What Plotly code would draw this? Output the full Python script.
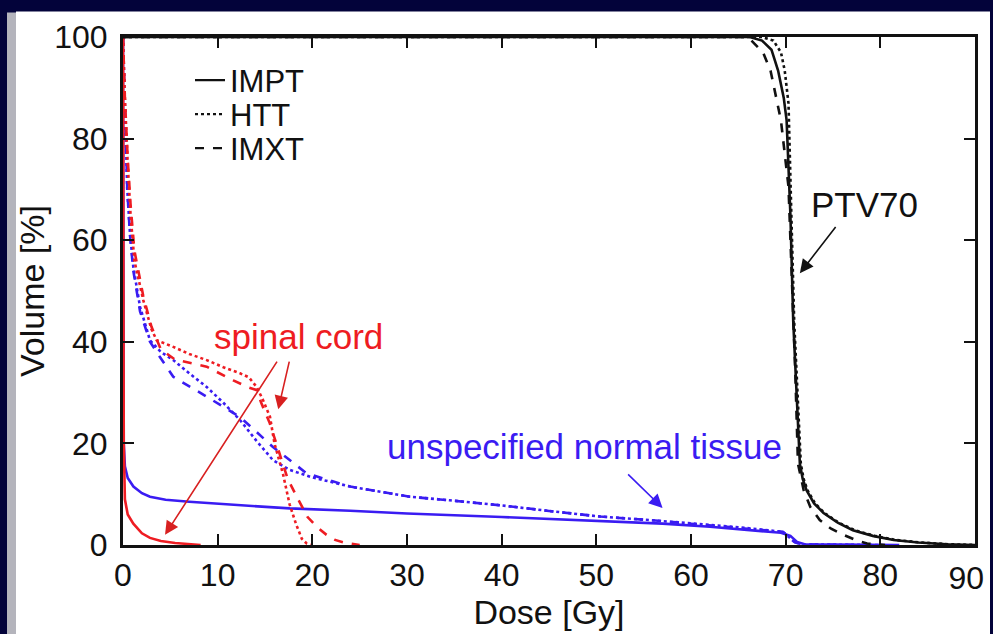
import plotly.graph_objects as go

# ---------------- data ----------------
# PTV70 (black)
ptv_impt_x = [0, 60, 66.2, 67.5, 68.5, 69.2, 69.8, 70.1, 70.5, 70.8, 71.1, 71.5, 71.8, 72.2, 73.0, 74.0, 75.5, 77.1, 79.2, 81.4, 84.0, 87.0, 90.0]
ptv_impt_y = [100, 100, 100, 99.3, 97.5, 93.4, 88, 83.6, 65, 44, 32, 16, 13, 10.8, 8.2, 6.3, 4.4, 2.9, 1.8, 1.0, 0.5, 0.15, 0]
ptv_htt_x = [0, 60, 67.5, 68.7, 69.5, 69.9, 70.3, 70.6, 70.9, 71.2, 71.6, 71.9, 72.3, 73.1, 74.1, 75.6, 77.3, 79.4, 81.6, 84.2, 87.2, 90.0]
ptv_htt_y = [100, 100, 100, 99.3, 97, 93.4, 86.9, 65, 44, 32, 16, 13, 10.8, 8.2, 6.3, 4.4, 2.9, 1.8, 1.0, 0.5, 0.15, 0]
ptv_imxt_x = [0, 60, 66.0, 67.6, 68.4, 69.5, 69.9, 70.3, 70.7, 71.0, 71.3, 71.9, 72.6, 73.6, 74.8, 76.1, 77.5, 78.6, 80.5]
ptv_imxt_y = [100, 100, 100, 97, 93.4, 83.6, 77, 70.5, 50, 35, 16, 10.8, 7.5, 4.9, 3.2, 2.0, 0.9, 0.3, 0]

# unspecified normal tissue (blue)
unt_impt_x = [0, 0.03, 0.08, 0.2, 0.5, 1.1, 2.0, 2.85, 4.5, 7.0, 10.0, 17.6, 24.0, 30.0, 40.0, 50.0, 57.0, 62.0, 66.0, 69.5, 70.5, 71.2, 72.0, 76.0, 82.0]
unt_impt_y = [100, 40, 20, 15.5, 13.2, 11.5, 10.2, 9.5, 8.9, 8.5, 8.1, 7.2, 6.75, 6.2, 5.5, 4.7, 4.2, 3.6, 3.0, 2.4, 1.8, 0.6, 0.15, 0.05, 0]
unt_htt_x = [0, 0.2, 0.45, 0.74, 1.09, 1.8, 2.85, 4.0, 5.31, 7.0, 8.84, 10.6, 12.36, 14.1, 15.84, 17.6, 20.0, 24.0, 30.3, 34.5, 40.0, 45.0, 50.4, 55.7, 60.0, 65.0, 69.7, 71.0, 72.0, 80.0]
unt_htt_y = [100, 85, 70, 61.3, 54.7, 46.9, 40.3, 38.0, 36.4, 33.8, 31.1, 28.0, 24.6, 20.5, 16.7, 14.8, 13.3, 11.5, 9.5, 8.8, 7.8, 6.7, 5.6, 4.9, 4.3, 3.5, 2.6, 0.5, 0.1, 0]
unt_imxt_x = [0, 0.2, 0.45, 0.74, 1.09, 1.8, 2.85, 3.9, 5.31, 8.84, 12.36, 15.84, 19.4, 24.0, 30.3, 34.5, 40.0, 45.0, 50.4, 55.7, 60.0, 65.0, 69.7, 71.0, 72.0, 78.0]
unt_imxt_y = [100, 85, 70, 61.0, 54.0, 46.0, 40.0, 37.0, 33.1, 29.2, 25.2, 19.3, 14.1, 11.5, 9.5, 8.8, 7.8, 6.7, 5.6, 4.9, 4.2, 3.5, 2.6, 0.5, 0.1, 0]

# spinal cord (red)
sc_impt_x = [0, 0.03, 0.08, 0.2, 0.5, 1.09, 2.0, 2.85, 4.0, 5.5, 7.1, 8.2]
sc_impt_y = [100, 50, 20, 9, 6, 4.2, 2.3, 1.4, 0.8, 0.4, 0.15, 0]
sc_htt_x = [0, 0.2, 0.5, 0.8, 1.2, 2.14, 3.0, 3.56, 5.31, 7.0, 8.84, 10.6, 12.36, 13.3, 14.12, 14.8, 15.53, 16.0, 16.9, 17.6, 18.3, 18.9, 19.4, 19.8]
sc_htt_y = [100, 88, 75, 65, 56, 48.2, 42.5, 40.3, 39.0, 37.6, 36.4, 35.0, 33.8, 33.0, 31.1, 28.5, 25.2, 20.0, 14.0, 8.0, 4.0, 1.2, 0.3, 0]
sc_imxt_x = [0, 0.2, 0.5, 0.8, 1.2, 2.14, 3.0, 4.0, 5.5, 8.84, 11.65, 13.3, 14.12, 14.6, 15.5, 16.4, 17.4, 18.5, 19.5, 20.46, 21.5, 22.4, 23.5, 25.0]
sc_imxt_y = [100, 88, 76, 67, 58, 49, 43, 38.5, 36.5, 35.1, 32.4, 31.0, 30.5, 28.0, 24.0, 19.0, 13.0, 9.0, 5.5, 3.6, 2.0, 1.0, 0.4, 0]

legend_names = ["IMPT", "HTT", "IMXT"]
x_ticks = [0, 10, 20, 30, 40, 50, 60, 70, 80, 90]
x_tick_labels = ["0", "10", "20", "30", "40", "50", "60", "70", "80", ""]
x_last_tick = [90]
x_last_label = ["90"]
y_ticks = [0, 20, 40, 60, 80, 100]
y_tick_labels = ["0", "20", "40", "60", "80", "100"]

# ---------------- styles ----------------
BLACK = "#111111"
BLUE = "#3a1cf2"
RED = "#ee1c22"
NAVY = "#03033a"
FONT = "Liberation Sans, Arial, Helvetica, sans-serif"
dashes = {"IMPT": "solid", "HTT": "dot", "IMXT": "dash"}
LW = 2.6

fig = go.Figure()

def add(x, y, color, name):
    fig.add_trace(go.Scatter(x=x, y=y, mode="lines", showlegend=False,
                             line=dict(color=color, width=LW, dash=dashes[name]),
                             hoverinfo="skip"))

add(unt_imxt_x, unt_imxt_y, BLUE, "IMXT")
add(unt_htt_x, unt_htt_y, BLUE, "HTT")
add(unt_impt_x, unt_impt_y, BLUE, "IMPT")
add(sc_imxt_x, sc_imxt_y, RED, "IMXT")
add(sc_htt_x, sc_htt_y, RED, "HTT")
add(sc_impt_x, sc_impt_y, RED, "IMPT")
add(ptv_imxt_x, ptv_imxt_y, BLACK, "IMXT")
add(ptv_htt_x, ptv_htt_y, BLACK, "HTT")
add(ptv_impt_x, ptv_impt_y, BLACK, "IMPT")

# empty trace that carries the overlaid axis holding the last (edge) tick label
fig.add_trace(go.Scatter(x=[None], y=[None], xaxis="x2", yaxis="y", mode="lines",
                         showlegend=False, hoverinfo="skip"))

# ---------------- background panel helpers ----------------
def px2x(px):
    return (px - 123) / 852.0

def py2y(py):
    return (545 - py) / 508.5

# one legend per entry, so rows can sit as tightly as in the reference
legend_keys = ["legend", "legend2", "legend3"]
legend_rows = [80, 114, 148]
legend_layout = {}
for n, key, row in zip(legend_names, legend_keys, legend_rows):
    fig.add_trace(go.Scatter(x=[None], y=[None], mode="lines", name=n, legend=key,
                             line=dict(color=BLACK, width=2.2, dash=dashes[n])))
    legend_layout[key] = dict(x=px2x(190), y=py2y(row), xanchor="left", yanchor="middle",
                              bgcolor="rgba(0,0,0,0)",
                              font=dict(family=FONT, size=31, color=BLACK),
                              itemwidth=30)

shapes = [
    dict(type="rect", xref="paper", yref="paper", x0=px2x(-5), x1=px2x(1000),
         y0=py2y(700), y1=py2y(-5), fillcolor=NAVY, line=dict(width=0), layer="below"),
    dict(type="rect", xref="paper", yref="paper", x0=px2x(7), x1=px2x(17),
         y0=py2y(700), y1=py2y(12), fillcolor="#b4b4bc", line=dict(width=0), layer="below"),
    dict(type="rect", xref="paper", yref="paper", x0=px2x(16), x1=px2x(990),
         y0=py2y(700), y1=py2y(11), fillcolor="#ffffff", line=dict(width=0), layer="below"),
]

# ---------------- annotations ----------------
ann = []
def label(text, x, y, color):
    ann.append(dict(text=text, x=x, y=y, xref="x", yref="y", showarrow=False,
                    font=dict(family=FONT, size=35, color=color),
                    xanchor="center", yanchor="middle"))

def arrow(x, y, ax, ay, color):
    ann.append(dict(text="", x=x, y=y, ax=ax, ay=ay, xref="x", yref="y",
                    axref="x", ayref="y", showarrow=True, arrowhead=2,
                    arrowsize=1.7, arrowwidth=1.6, arrowcolor=color,
                    standoff=0, startstandoff=0))

label("spinal cord", 18.5, 41.0, RED)
label("unspecified normal tissue", 48.8, 19.3, BLUE)
label("PTV70", 78.3, 67.1, BLACK)
arrow(4.44, 2.0, 16.37, 36.4, "#d82020")
arrow(16.4, 26.7, 17.6, 36.4, "#d82020")
arrow(57.0, 7.3, 53.2, 14.2, BLUE)
arrow(71.5, 53.5, 75.4, 62.9, BLACK)

tickfont = dict(family=FONT, size=32, color=BLACK)
axis_common = dict(showline=True, linecolor=BLACK, linewidth=3, mirror="ticks",
                   ticks="inside", ticklen=11, tickwidth=1.5, tickcolor=BLACK,
                   showgrid=False, zeroline=False, automargin=False,
                   tickfont=tickfont)

fig.update_layout(
    width=993, height=634,
    margin=dict(l=123, r=18, t=37, b=89, autoexpand=False),
    paper_bgcolor=NAVY,
    plot_bgcolor="#ffffff",
    shapes=shapes,
    annotations=ann,
    xaxis=dict(range=[0, 90], tickvals=x_ticks, ticktext=x_tick_labels,
               title=dict(text="Dose [Gy]", font=dict(family=FONT, size=34, color=BLACK), standoff=8),
               **axis_common),
    xaxis2=dict(range=[0, 90], overlaying="x", anchor="y", side="bottom",
                tickvals=x_last_tick, ticktext=x_last_label, tickfont=tickfont,
                ticks="", showline=False, showgrid=False, zeroline=False,
                automargin=False, ticklabelposition="outside left",
                ticklabelshift=9, ticklabelstandoff=11),
    yaxis=dict(range=[0, 100], tickvals=y_ticks, ticktext=y_tick_labels,
               ticklabelstandoff=6,
               title=dict(text="Volume [%]", font=dict(family=FONT, size=34, color=BLACK), standoff=0),
               **axis_common),
    showlegend=True,
    **legend_layout,
)

fig.write_html(
    "out.html",
    config={"displayModeBar": False},
    post_script="document.body.style.margin='0px';document.body.style.overflow='hidden';"
                "document.body.style.background='#03033a';",
)
